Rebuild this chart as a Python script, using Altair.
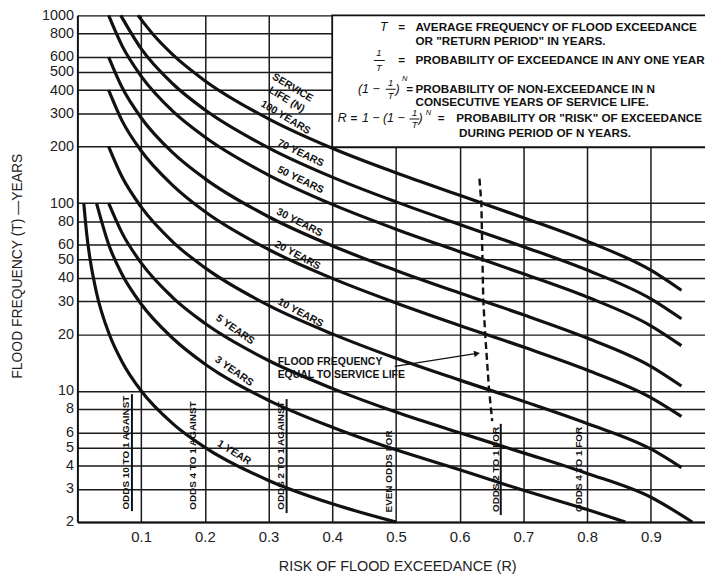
import math
import altair as alt
import pandas as pd

# ---------------- data ----------------
N1_R = [0.01, 0.015, 0.02, 0.03, 0.05, 0.07, 0.10, 0.15, 0.20, 0.30, 0.40, 0.50]
N1_T = [100, 66.7, 50, 33.3, 20, 14.3, 10, 6.67, 5.0, 3.33, 2.5, 2.0]

N3_R = [0.030, 0.05, 0.07, 0.10, 0.15, 0.20, 0.30, 0.40, 0.50, 0.60, 0.70, 0.80, 0.86]
N3_T = [100, 59, 41.8, 29.0, 19.0, 13.9, 8.9, 6.4, 4.85, 3.8, 2.95, 2.33, 2.0]

N5_R = [0.049, 0.07, 0.10, 0.15, 0.20, 0.30, 0.40, 0.50, 0.60, 0.70, 0.80, 0.90, 0.965]
N5_T = [100, 69.4, 48.0, 31.3, 22.9, 14.5, 10.3, 7.7, 5.97, 4.67, 3.63, 2.71, 2.0]

N10_R = [0.049, 0.07, 0.10, 0.15, 0.20, 0.30, 0.40, 0.50, 0.60, 0.70, 0.80, 0.90, 0.948]
N10_T = [200, 138, 95.4, 62.0, 45.3, 28.5, 20.1, 14.9, 11.4, 8.8, 6.7, 4.9, 3.9]

N20_R = [0.049, 0.07, 0.10, 0.15, 0.20, 0.30, 0.40, 0.50, 0.60, 0.70, 0.80, 0.90, 0.948]
N20_T = [400, 275, 190, 124, 90.1, 56.6, 39.7, 29.4, 22.3, 17.1, 12.9, 9.2, 7.3]

N30_R = [0.049, 0.07, 0.10, 0.15, 0.20, 0.30, 0.40, 0.50, 0.60, 0.70, 0.80, 0.90, 0.948]
N30_T = [600, 414, 285, 185, 135, 84.6, 59.2, 43.8, 33.2, 25.4, 19.1, 13.5, 10.6]

N50_R = [0.049, 0.07, 0.10, 0.15, 0.20, 0.30, 0.40, 0.50, 0.60, 0.70, 0.80, 0.90, 0.948]
N50_T = [1000, 690, 475, 308, 225, 141, 98.4, 72.6, 55.1, 42.0, 31.6, 22.2, 17.4]

N70_R = [0.068, 0.10, 0.15, 0.20, 0.30, 0.40, 0.50, 0.60, 0.70, 0.80, 0.90, 0.948]
N70_T = [1000, 665, 431, 314, 197, 137.5, 101.5, 76.9, 58.6, 44.0, 30.9, 24.2]

N100_R = [0.095, 0.12, 0.15, 0.20, 0.30, 0.40, 0.50, 0.60, 0.70, 0.80, 0.90, 0.948]
N100_T = [1000, 783, 616, 449, 281, 196, 145, 110, 83.6, 62.6, 43.9, 34.3]

# dashed line: flood frequency equal to service life
EQ_R = [0.631, 0.634, 0.637, 0.640, 0.646, 0.651]
EQ_T = [135, 100, 30.6, 20, 10.2, 6.9]

X_TICKS = [0.1, 0.2, 0.3, 0.4, 0.5, 0.6, 0.7, 0.8, 0.9]
Y_TICKS = [2, 3, 4, 5, 6, 8, 10, 20, 30, 40, 50, 60, 80, 100, 200, 300, 400, 500, 600, 800, 1000]

CURVE_LABELS = ["SERVICE", "LIFE (N)", "100 YEARS", "70 YEARS", "50 YEARS", "30 YEARS",
                "20 YEARS", "10 YEARS", "5 YEARS", "3 YEARS", "1 YEAR"]
ODDS_LABELS = ["ODDS 10 TO 1 AGAINST", "ODDS 4 TO 1 AGAINST", "ODDS 2 TO 1 AGAINST",
               "EVEN ODDS FOR", "ODDS 2 TO 1 FOR", "ODDS 4 TO 1 FOR"]

# ---------------- layout ----------------
W, H = 633, 511
XMAX = 0.985
YMIN, YMAX = 2, 1000
FONT = "Liberation Sans"
INK = "#111111"


def to_data(px, py):
    """page pixel -> (R, T) data coordinates for annotations"""
    x = (px - 78) / W * XMAX
    y = 10 ** (math.log10(YMAX) - (py - 13) / H * math.log10(YMAX / YMIN))
    return x, y


series = [(1, N1_R, N1_T), (3, N3_R, N3_T), (5, N5_R, N5_T), (10, N10_R, N10_T),
          (20, N20_R, N20_T), (30, N30_R, N30_T), (50, N50_R, N50_T),
          (70, N70_R, N70_T), (100, N100_R, N100_T)]
rows = []
for n, rs, ts in series:
    for r, t in zip(rs, ts):
        rows.append({"N": n, "R": r, "T": t})
curves_df = pd.DataFrame(rows)
eq_df = pd.DataFrame({"R": EQ_R, "T": EQ_T})

xsc = alt.Scale(domain=[0, XMAX], nice=False, zero=False)
ysc = alt.Scale(type="log", domain=[YMIN, YMAX], nice=False)
XAX = alt.Axis(values=X_TICKS, format=".1f", grid=True, gridColor="#1a1a1a", gridWidth=1.5,
               domainColor=INK, domainWidth=1.8, ticks=False, labelFont=FONT,
               labelFontSize=15, labelColor="#222", labelPadding=8, labelOverlap=False,
               title=None)
YAX = alt.Axis(values=Y_TICKS, format="d", grid=True, gridColor="#1a1a1a", gridWidth=1.5,
               domainColor=INK, domainWidth=2, ticks=False, labelFont=FONT,
               labelFontSize=14.5, labelColor="#222", labelPadding=4, labelOverlap=False,
               title=None)


def X(f="R"):
    return alt.X(f + ":Q", scale=xsc, axis=XAX)


def Y(f="T"):
    return alt.Y(f + ":Q", scale=ysc, axis=YAX)


# legend box
bx0, by0 = to_data(335, 13)
bx1, by1 = to_data(760, 146)
box_df = pd.DataFrame({"R": [bx0], "R2": [bx1], "T": [by0], "T2": [by1]})
box = alt.Chart(box_df).mark_rect(fill="white", stroke=INK, strokeWidth=1.8).encode(
    x=X(), x2="R2:Q", y=Y(), y2="T2:Q")

curves = alt.Chart(curves_df).mark_line(
    interpolate="monotone", color=INK, strokeWidth=3.2).encode(
    x=X(), y=Y(), detail="N:N")

eq_line = alt.Chart(eq_df).mark_line(
    color=INK, strokeWidth=2.4, strokeDash=[7, 4]).encode(x=X(), y=Y())

# curve labels
lab_pos = [(295, 86, 31), (289, 98, 31), (288, 116, 31), (303, 152, 26), (303, 179, 26),
           (302, 222, 27), (300, 255, 28), (303, 313, 28), (237, 330, 35),
           (236, 372, 35), (236, 454, 32)]
lab_rows = []
for t, (px, py, a) in zip(CURVE_LABELS, lab_pos):
    r, tt = to_data(px, py)
    lab_rows.append({"R": r, "T": tt, "text": t, "ang": a})
lab_df = pd.DataFrame(lab_rows)
labels = alt.Chart(lab_df).mark_text(font=FONT, fontSize=10.5, fontWeight="bold",
                                      color=INK, baseline="middle", align="center").encode(
    x=X(), y=Y(), text="text:N", angle=alt.Angle("ang:Q", scale=None))

# odds labels (vertical)
odds_pos = [(127, 454), (195, 457), (283, 457), (392, 473), (500, 471), (584, 471)]
od_rows = []
for t, (px, py) in zip(ODDS_LABELS, odds_pos):
    r, tt = to_data(px, py)
    od_rows.append({"R": r, "T": tt, "text": t})
odds_df = pd.DataFrame(od_rows)
odds = alt.Chart(odds_df).mark_text(font=FONT, fontSize=10, fontWeight="bold", color=INK,
                                     angle=270, baseline="middle", align="center").encode(
    x=X(), y=Y(), text="text:N")

odds_lines_pos = [(133, 395, 513), (289, 400, 515), (505, 425, 517)]
ol_rows = []
for px, y1, y2 in odds_lines_pos:
    r, t1 = to_data(px, y1)
    _, t2 = to_data(px, y2)
    ol_rows.append({"R": r, "T": t1, "T2": t2})
odds_lines = alt.Chart(pd.DataFrame(ol_rows)).mark_rule(color=INK, strokeWidth=2).encode(
    x=X(), y=Y(), y2="T2:Q")

# "flood frequency equal to service life" annotation
ff_rows = []
for t, (px, py) in zip(["FLOOD FREQUENCY", "EQUAL TO SERVICE LIFE"], [(280, 363), (280, 376)]):
    r, tt = to_data(px, py)
    ff_rows.append({"R": r, "T": tt, "text": t})
ff = alt.Chart(pd.DataFrame(ff_rows)).mark_text(font=FONT, fontSize=10.5, fontWeight="bold",
                                                 color=INK, align="left", baseline="middle").encode(
    x=X(), y=Y(), text="text:N")
a0 = to_data(398, 367)
a1 = to_data(481, 354)
arrow_df = pd.DataFrame({"R": [a0[0], a1[0]], "T": [a0[1], a1[1]]})
arrow_line = alt.Chart(arrow_df).mark_line(color=INK, strokeWidth=1.3).encode(x=X(), y=Y())
arrow_head = alt.Chart(arrow_df.iloc[[1]]).mark_point(
    shape="triangle-right", filled=True, color=INK, size=45, angle=351, opacity=1).encode(
    x=X(), y=Y())

# legend box texts
leg_items = [
    ("T", 387, 25, "center", "ital"),
    ("=", 405, 25, "center", "txt"),
    ("AVERAGE FREQUENCY OF FLOOD EXCEEDANCE", 419, 25, "left", "txt"),
    ('OR "RETURN PERIOD" IN YEARS.', 419, 39, "left", "txt"),
    ("1", 382, 51, "center", "frac"),
    ("T", 382, 66, "center", "frac"),
    ("=", 405, 58, "center", "txt"),
    ("PROBABILITY OF EXCEEDANCE IN ANY ONE YEAR", 419, 58, "left", "txt"),
    ("(1 −", 361, 87, "left", "ital"),
    ("1", 394, 81, "center", "frac"),
    ("T", 394, 94, "center", "frac"),
    (")", 401, 87, "center", "ital"),
    ("N", 408, 77, "center", "sup"),
    ("=", 413, 87, "center", "txt"),
    ("PROBABILITY OF NON-EXCEEDANCE IN N", 419, 87, "left", "txt"),
    ("CONSECUTIVE YEARS OF SERVICE LIFE.", 419, 100, "left", "txt"),
    ("R", 345, 117, "center", "ital"),
    ("=", 357, 117, "center", "txt"),
    ("1 − (1 −", 365, 117, "left", "ital"),
    ("1", 418, 111, "center", "frac"),
    ("T", 418, 124, "center", "frac"),
    (")", 424, 117, "center", "ital"),
    ("N", 432, 111, "center", "sup"),
    ("=", 445, 117, "center", "txt"),
    ('PROBABILITY OR "RISK" OF EXCEEDANCE', 460, 117, "left", "txt"),
    ("DURING PERIOD OF N YEARS.", 463, 132, "left", "txt"),
]
leg_rows = []
for t, px, py, al, st in leg_items:
    r, tt = to_data(px, py)
    leg_rows.append({"R": r, "T": tt, "text": t, "align": al, "style": st})
leg_df = pd.DataFrame(leg_rows)

styles = {
    "txt": dict(fontSize=11.8, fontWeight="bold", fontStyle="normal"),
    "ital": dict(fontSize=12.5, fontWeight="normal", fontStyle="italic"),
    "frac": dict(fontSize=9.5, fontWeight="normal", fontStyle="italic"),
    "sup": dict(fontSize=7.5, fontWeight="normal", fontStyle="italic"),
}
leg_layers = []
for st, kw in styles.items():
    for al in ["left", "center"]:
        sub = leg_df[(leg_df["style"] == st) & (leg_df["align"] == al)]
        if len(sub) == 0:
            continue
        leg_layers.append(alt.Chart(sub).mark_text(
            font=FONT, color=INK, align=al, baseline="middle", **kw).encode(
            x=X(), y=Y(), text="text:N"))

bar_rows = []
for x1, x2, py in [(377, 388, 58.5), (389, 399, 87.5), (413, 423, 117.5)]:
    r1, t = to_data(x1, py)
    r2, _ = to_data(x2, py)
    bar_rows.append({"R": r1, "R2": r2, "T": t})
frac_bars = alt.Chart(pd.DataFrame(bar_rows)).mark_rule(color=INK, strokeWidth=1).encode(
    x=X(), x2="R2:Q", y=Y())

# axis titles drawn as text
yt = to_data(18, 266)
xt = to_data(401, 569)
ytitle = alt.Chart(pd.DataFrame({"R": [yt[0]], "T": [yt[1]],
                                 "text": ["FLOOD FREQUENCY (T) —YEARS"]})).mark_text(
    font=FONT, fontSize=14, color="#222", angle=270, align="center", baseline="middle").encode(
    x=X(), y=Y(), text="text:N")
xtitle = alt.Chart(pd.DataFrame({"R": [xt[0]], "T": [xt[1]],
                                 "text": ["RISK OF FLOOD EXCEEDANCE (R)"]})).mark_text(
    font=FONT, fontSize=14.5, color="#222", align="center", baseline="middle").encode(
    x=X(), y=Y(), text="text:N")

chart = alt.layer(
    box, curves, eq_line, odds_lines, labels, odds, ff, arrow_line, arrow_head,
    *leg_layers, frac_bars, ytitle, xtitle
).properties(
    width=W, height=H,
    autosize=alt.AutoSizeParams(type="none"),
    padding={"left": 70, "top": 5, "right": 0, "bottom": 51},
).configure_view(stroke=None).configure(background="white")

chart.save("out.html", embed_options={"renderer": "svg", "actions": False})
